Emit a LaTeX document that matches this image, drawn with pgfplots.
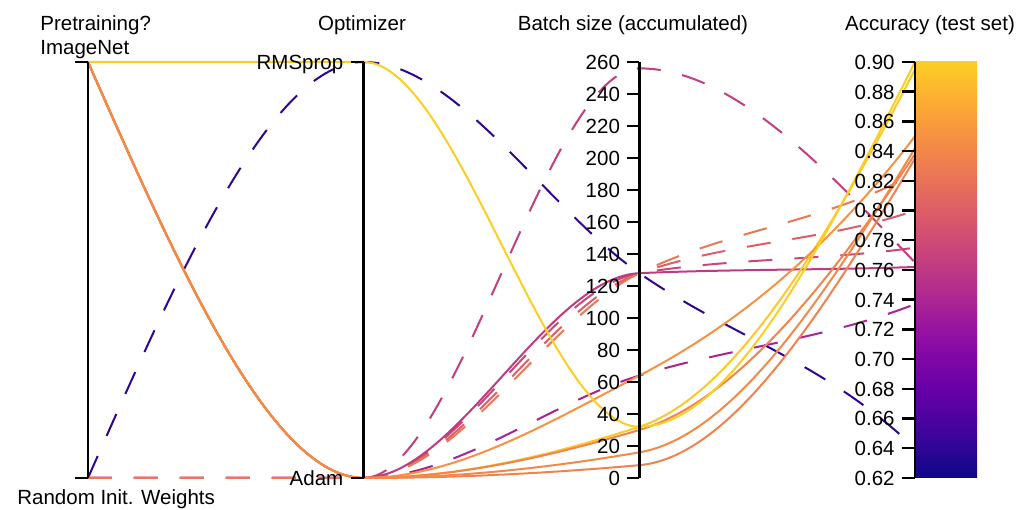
\documentclass[border=0pt]{standalone}
\usepackage{fontspec}
\setmainfont{Liberation Sans}
\usepackage{pgfplots}
\pgfplotsset{compat=1.18}

% plasma colormap (0 ... 0.9 of matplotlib's plasma), mapped to accuracy 0.62 ... 0.90
\pgfplotsset{colormap={plasmaT}{rgb255=(13,8,135) rgb255=(65,4,157) rgb255=(106,0,168)
  rgb255=(143,13,164) rgb255=(177,42,144) rgb255=(204,71,120) rgb255=(225,100,98)
  rgb255=(242,132,75) rgb255=(252,166,54) rgb255=(252,206,37)}}

\pgfdeclareverticalshading{plasmabar}{100bp}{%
  rgb(0bp)=(0.051,0.031,0.529);
  rgb(25bp)=(0.051,0.031,0.529);
  rgb(30.556bp)=(0.255,0.016,0.616);
  rgb(36.111bp)=(0.416,0,0.659);
  rgb(41.667bp)=(0.561,0.051,0.643);
  rgb(47.222bp)=(0.694,0.165,0.565);
  rgb(52.778bp)=(0.8,0.278,0.471);
  rgb(58.333bp)=(0.882,0.392,0.384);
  rgb(63.889bp)=(0.949,0.518,0.294);
  rgb(69.444bp)=(0.988,0.651,0.212);
  rgb(75bp)=(0.988,0.808,0.145);
  rgb(100bp)=(0.988,0.808,0.145)}

% ---------- monotone cubic plot handler ----------
\makeatletter
\newcount\pc@n \newcount\pc@k \newcount\pc@j
\def\pc@get#1#2{\csname pc@#1\number#2\endcsname}
\def\pgfplothandlerpchip{%
  \def\pgf@plotstreamstart{%
    \global\pc@n=0\relax
    \global\let\pgf@plotstreampoint=\pc@point
    \global\let\pgf@plotstreamspecial=\@gobble
    \global\let\pgf@plotstreamend=\pc@finish}}
\def\pc@point#1{%
  \pgf@process{#1}%
  \global\advance\pc@n by 1\relax
  \expandafter\xdef\csname pc@x\number\pc@n\endcsname{\pgf@sys@tonumber\pgf@x}%
  \expandafter\xdef\csname pc@y\number\pc@n\endcsname{\pgf@sys@tonumber\pgf@y}}
\def\pc@slopes{%
  \ifnum\pc@k<\pc@n
    \pc@j=\pc@k \advance\pc@j by 1\relax
    \edef\pc@xa{\pc@get{x}{\pc@k}}\edef\pc@xb{\pc@get{x}{\pc@j}}%
    \edef\pc@ya{\pc@get{y}{\pc@k}}\edef\pc@yb{\pc@get{y}{\pc@j}}%
    \pgfmathsetmacro\pc@tmp{((\pc@yb)-(\pc@ya))/((\pc@xb)-(\pc@xa))}%
    \expandafter\let\csname pc@d\number\pc@k\endcsname\pc@tmp
    \advance\pc@k by 1\relax
    \expandafter\pc@slopes
  \fi}
% end tangent: 1.5 times the adjacent secant slope
\def\pc@endslope{\pgfmathsetmacro\pc@tmp{1.5*(\pc@da)}}
\def\pc@interior{%
  \ifnum\pc@k<\pc@n
    \pc@j=\pc@k \advance\pc@j by -1\relax
    \edef\pc@da{\pc@get{d}{\pc@j}}%
    \edef\pc@db{\pc@get{d}{\pc@k}}%
    \pgfmathparse{(\pc@da)*(\pc@db)}%
    \ifdim\pgfmathresult pt>0pt
      \pgfmathsetmacro\pc@tmp{2*(\pc@da)*(\pc@db)/((\pc@da)+(\pc@db))}%
    \else
      \def\pc@tmp{0}%
    \fi
    \expandafter\let\csname pc@m\number\pc@k\endcsname\pc@tmp
    \advance\pc@k by 1\relax
    \expandafter\pc@interior
  \fi}
\def\pc@tangents{%
  \edef\pc@da{\csname pc@d1\endcsname}%
  \ifnum\pc@n>2 \pc@endslope \else \let\pc@tmp\pc@da \fi
  \expandafter\let\csname pc@m1\endcsname\pc@tmp
  \pc@j=\pc@n \advance\pc@j by -1\relax
  \edef\pc@da{\pc@get{d}{\pc@j}}%
  \ifnum\pc@n>2 \pc@endslope \else \let\pc@tmp\pc@da \fi
  \expandafter\let\csname pc@m\number\pc@n\endcsname\pc@tmp
  \pc@k=2 \pc@interior}
\def\pc@controls{%
  \ifnum\pc@k<\pc@n
    \pc@j=\pc@k \advance\pc@j by 1\relax
    \edef\pc@xa{\pc@get{x}{\pc@k}}\edef\pc@xb{\pc@get{x}{\pc@j}}%
    \edef\pc@ya{\pc@get{y}{\pc@k}}\edef\pc@yb{\pc@get{y}{\pc@j}}%
    \edef\pc@ma{\pc@get{m}{\pc@k}}\edef\pc@mb{\pc@get{m}{\pc@j}}%
    \pgfmathsetmacro\pc@h{((\pc@xb)-(\pc@xa))/3}%
    \pgfmathsetmacro\pc@t{(\pc@xa)+(\pc@h)}\expandafter\xdef\csname pc@ax\number\pc@k\endcsname{\pc@t}%
    \pgfmathsetmacro\pc@t{(\pc@ya)+(\pc@ma)*(\pc@h)}\expandafter\xdef\csname pc@ay\number\pc@k\endcsname{\pc@t}%
    \pgfmathsetmacro\pc@t{(\pc@xb)-(\pc@h)}\expandafter\xdef\csname pc@bx\number\pc@k\endcsname{\pc@t}%
    \pgfmathsetmacro\pc@t{(\pc@yb)-(\pc@mb)*(\pc@h)}\expandafter\xdef\csname pc@by\number\pc@k\endcsname{\pc@t}%
    \advance\pc@k by 1\relax
    \expandafter\pc@controls
  \fi}
\def\pc@segments{%
  \ifnum\pc@k<\pc@n
    \pc@j=\pc@k \advance\pc@j by 1\relax
    \edef\pc@do{\noexpand\pgfpathcurveto
      {\noexpand\pgfpoint{\pc@get{ax}{\pc@k}pt}{\pc@get{ay}{\pc@k}pt}}%
      {\noexpand\pgfpoint{\pc@get{bx}{\pc@k}pt}{\pc@get{by}{\pc@k}pt}}%
      {\noexpand\pgfpoint{\pc@get{x}{\pc@j}pt}{\pc@get{y}{\pc@j}pt}}}%
    \pc@do
    \advance\pc@k by 1\relax
    \expandafter\pc@segments
  \fi}
\def\pc@finish{%
  \ifnum\pc@n>1
    \begingroup
      \pgfkeys{/pgf/fpu=false}%
      \pc@k=1 \pc@slopes
      \pc@tangents
      \pc@k=1 \pc@controls
    \endgroup
    \edef\pc@do{\noexpand\pgfpathmoveto{\noexpand\pgfpoint{\pc@get{x}{1}pt}{\pc@get{y}{1}pt}}}%
    \pc@do
    \pc@k=1 \pc@segments
  \fi}
\tikzset{pchip/.code={\let\tikz@plot@handler=\pgfplothandlerpchip}}
\makeatother

% colour of a line from its accuracy
\newcommand\acccolor[2]{%
  \pgfmathsetmacro\acctmp{(#2-0.62)/0.28*1000}%
  \pgfplotscolormapdefinemappedcolor{\acctmp}%
  \colorlet{#1}{mapped color}}
\acccolor{c900}{0.900}%
\acccolor{c895}{0.895}%
\acccolor{c850}{0.850}%
\acccolor{c842}{0.842}%
\acccolor{c838}{0.838}%
\acccolor{c835}{0.835}%
\acccolor{c825}{0.825}%
\acccolor{c800}{0.800}%
\acccolor{c775}{0.775}%
\acccolor{c765}{0.765}%
\acccolor{c762}{0.762}%
\acccolor{c737}{0.737}%
\acccolor{c640}{0.640}%

\begin{document}%
\begin{tikzpicture}[font=\fontsize{10.25}{12.3}\selectfont]
\begin{axis}[
  x=137.835pt, y=208pt,
  xmin=-0.32, xmax=3.42, ymin=-0.08, ymax=1.15,
  hide axis, xtick=\empty, ytick=\empty, clip=false,
  % x = 0 pretraining (1 ImageNet, 0 random), x = 1 optimizer (1 RMSprop, 0 Adam),
  % x = 2 batch size (0..260), x = 3 accuracy (0.62..0.90)
  y filter/.expression={x==2 ? y/260 : (x==3 ? (y-0.62)/0.28 : y)},
  rnd/.style={pchip, line width=1pt, dash pattern=on 12pt off 11pt},
  imn/.style={pchip, line width=1pt, solid},
]
% random initial weights (dashed)
\addplot[rnd, draw=c640] coordinates {(0,0) (1,1) (2,128) (3,0.640)};
\addplot[rnd, draw=c737] coordinates {(0,0) (1,0) (2,64) (3,0.737)};
\addplot[rnd, draw=c765] coordinates {(0,0) (1,0) (2,256) (3,0.765)};
\addplot[rnd, draw=c775] coordinates {(0,0) (1,0) (2,128) (3,0.775)};
\addplot[rnd, draw=c800] coordinates {(0,0) (1,0) (2,128) (3,0.800)};
\addplot[rnd, draw=c825] coordinates {(0,0) (1,0) (2,128) (3,0.825)};
% ImageNet pretraining (solid)
\addplot[imn, draw=c762] coordinates {(0,1) (1,0) (2,128) (3,0.762)};
\addplot[imn, draw=c895] coordinates {(0,1) (1,0) (2,32) (3,0.895)};
\addplot[imn, draw=c835] coordinates {(0,1) (1,0) (2,8) (3,0.835)};
\addplot[imn, draw=c838] coordinates {(0,1) (1,0) (2,30) (3,0.838)};
\addplot[imn, draw=c850] coordinates {(0,1) (1,0) (2,64) (3,0.850)};
\addplot[imn, draw=c842] coordinates {(0,1) (1,0) (2,16) (3,0.842)};
\addplot[imn, draw=c900] coordinates {(0,1) (1,1) (2,32) (3,0.900)};

\pgfplotsextra{%
  \path[shading=plasmabar] (axis cs:3,0) rectangle (axis cs:3.2249,1);
  \foreach \k in {0,1,2,3}{\draw[line width=1.2pt] (axis cs:\k,0) -- (axis cs:\k,1);}
  \foreach \k in {0,1}{%
    \draw[line width=1.2pt] (axis cs:\k,0) -- ([xshift=-6.5pt]axis cs:\k,0);
    \draw[line width=1.2pt] (axis cs:\k,1) -- ([xshift=-6.5pt]axis cs:\k,1);
  }
  \node[anchor=base east,inner sep=0pt,xshift=-10pt,yshift=-3.7pt] at (axis cs:1,1) {RMSprop};
  \node[anchor=base east,inner sep=0pt,xshift=-10pt,yshift=-3.7pt] at (axis cs:1,0) {Adam};
  \foreach \v in {0,20,...,260}{%
    \pgfmathsetmacro\yy{\v/260}%
    \draw[line width=1.2pt] (axis cs:2,\yy) -- ([xshift=-6pt]axis cs:2,\yy);
    \node[anchor=base east,inner sep=0pt,xshift=-9.5pt,yshift=-3.7pt] at (axis cs:2,\yy) {\v};
  }
  \foreach \k/\lab in {0/0.62,1/0.64,2/0.66,3/0.68,4/0.70,5/0.72,6/0.74,7/0.76,8/0.78,9/0.80,10/0.82,11/0.84,12/0.86,13/0.88,14/0.90}{%
    \pgfmathsetmacro\yy{\k/14}%
    \draw[line width=1.2pt] (axis cs:3,\yy) -- ([xshift=-6.5pt]axis cs:3,\yy);
    \node[anchor=base east,inner sep=0pt,xshift=-10pt,yshift=-3.7pt] at (axis cs:3,\yy) {\lab};
  }
  \node[anchor=base west,inner sep=0pt] at (axis cs:-0.1741,1.0745) {Pretraining?};
  \node[anchor=base west,inner sep=0pt] at (axis cs:-0.1741,1.0168) {ImageNet};
  \node[anchor=base west,inner sep=0pt] at (axis cs:-0.2576,-0.0649) {Random Init. Weights};
  \node[anchor=base,inner sep=0pt] at (axis cs:0.9939,1.0745) {Optimizer};
  \node[anchor=base,inner sep=0pt] at (axis cs:1.977,1.0745) {Batch size (accumulated)};
  \node[anchor=base,inner sep=0pt] at (axis cs:3.0544,1.0745) {Accuracy (test set)};
  \coordinate (bbll) at (axis cs:-0.3192,-0.0769);
  \coordinate (bbur) at (axis cs:3.4208,1.1490);
}
\end{axis}
\pgfresetboundingbox
\useasboundingbox (bbll) rectangle (bbur);
\end{tikzpicture}%
\end{document}
